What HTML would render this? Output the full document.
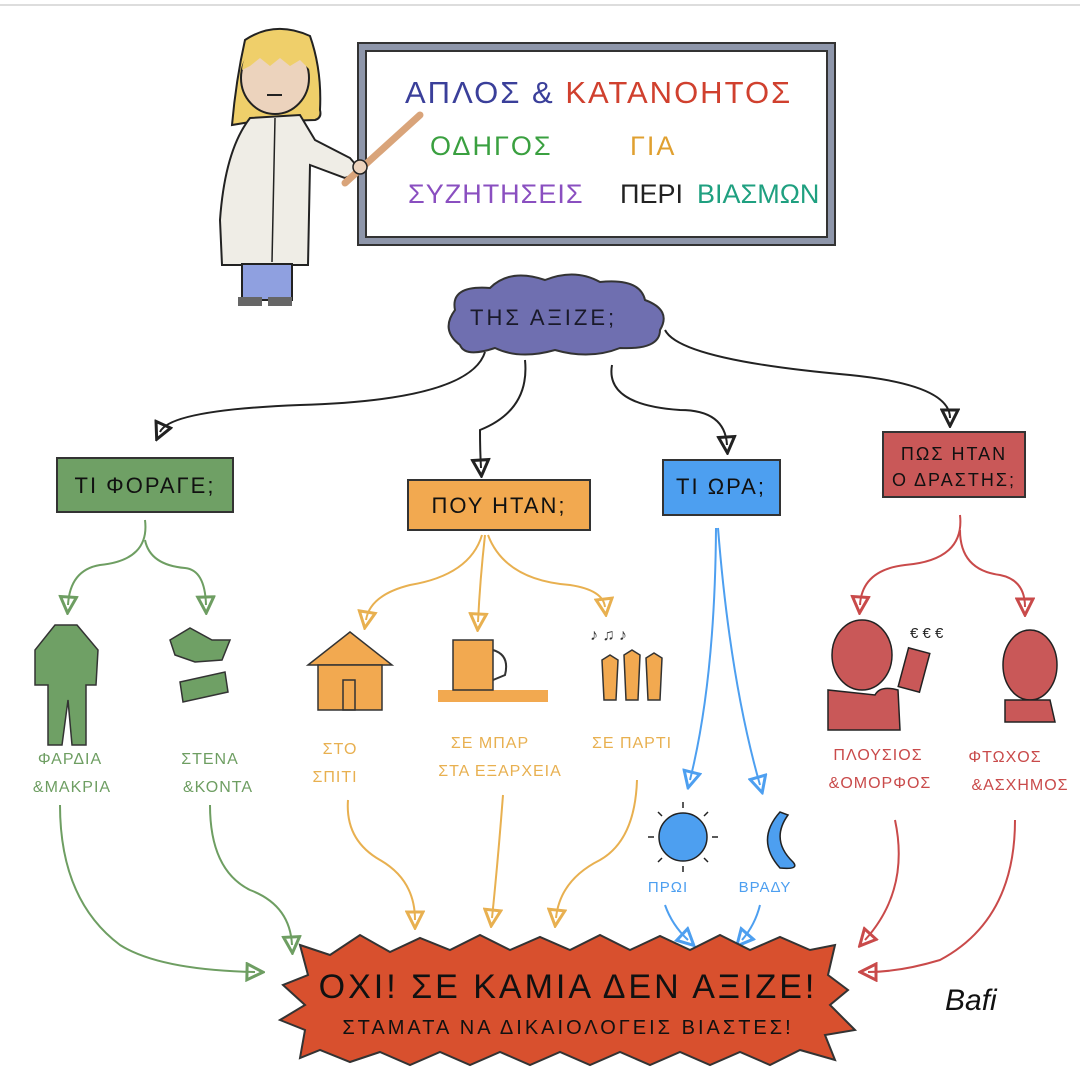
<!DOCTYPE html>
<html><head><meta charset="utf-8"><style>
html,body{margin:0;padding:0;background:#fff;}
svg{display:block;}
text{font-family:"Liberation Sans",sans-serif;}
</style></head><body>
<svg width="1080" height="1080" viewBox="0 0 1080 1080" xmlns="http://www.w3.org/2000/svg">
<defs>
<marker id="ag" markerWidth="10" markerHeight="10" refX="5" refY="5" orient="auto"><path d="M1,1 L9,5 L1,9 z" fill="none" stroke="#6e9e62" stroke-width="1.5"/></marker>
<marker id="ao" markerWidth="10" markerHeight="10" refX="5" refY="5" orient="auto"><path d="M1,1 L9,5 L1,9 z" fill="none" stroke="#e8b050" stroke-width="1.5"/></marker>
<marker id="ab" markerWidth="10" markerHeight="10" refX="5" refY="5" orient="auto"><path d="M1,1 L9,5 L1,9 z" fill="none" stroke="#4d9ff0" stroke-width="1.5"/></marker>
<marker id="ar" markerWidth="10" markerHeight="10" refX="5" refY="5" orient="auto"><path d="M1,1 L9,5 L1,9 z" fill="none" stroke="#c94a4a" stroke-width="1.5"/></marker>
<marker id="ak" markerWidth="10" markerHeight="10" refX="5" refY="5" orient="auto"><path d="M1,1 L9,5 L1,9 z" fill="none" stroke="#222" stroke-width="1.5"/></marker>
</defs>
<rect width="1080" height="1080" fill="#fff"/>
<line x1="0" y1="5" x2="1080" y2="5" stroke="#ddd" stroke-width="2"/>

<!-- board -->
<rect x="358" y="43" width="477" height="202" fill="#8e96aa" stroke="#333" stroke-width="2"/>
<rect x="366" y="51" width="461" height="186" fill="#fff" stroke="#333" stroke-width="2"/>
<text x="405" y="103" font-size="31" letter-spacing="2"><tspan fill="#3a3f9a">ΑΠΛΟΣ &amp;</tspan> <tspan fill="#d0402e">ΚΑΤΑΝΟΗΤΟΣ</tspan></text>
<text x="430" y="155" font-size="27" letter-spacing="2" fill="#3aa040">ΟΔΗΓΟΣ</text>
<text x="630" y="155" font-size="27" letter-spacing="2" fill="#e0a030">ΓΙΑ</text>
<text x="408" y="203" font-size="27" letter-spacing="1" fill="#8a4fc0">ΣΥΖΗΤΗΣΕΙΣ</text>
<text x="620" y="203" font-size="27" fill="#222">ΠΕΡΙ</text>
<text x="697" y="203" font-size="27" fill="#1fa080">ΒΙΑΣΜΩΝ</text>

<!-- teacher -->
<path d="M245,40 Q275,20 310,36 Q322,70 320,110 Q322,118 315,120 L250,122 L232,125 Q236,80 245,40z" fill="#efcf6a" stroke="#222" stroke-width="2"/>
<ellipse cx="275" cy="78" rx="34" ry="36" fill="#ecd3bd" stroke="#222" stroke-width="2"/>
<path d="M242,70 Q244,45 275,38 Q306,42 310,70 L300,60 L290,66 L280,58 L270,66 L260,58 L250,66z" fill="#efcf6a"/>
<line x1="267" y1="95" x2="282" y2="95" stroke="#222" stroke-width="2"/>
<path d="M250,118 L300,115 L315,140 L350,158 L362,172 L345,178 L310,165 L308,265 L222,265 L220,220 Q225,150 250,118z" fill="#efede6" stroke="#222" stroke-width="2"/>
<line x1="275" y1="118" x2="272" y2="262" stroke="#222" stroke-width="1.5"/>
<rect x="242" y="264" width="50" height="36" fill="#8fa0e0" stroke="#222" stroke-width="2"/>
<rect x="238" y="297" width="24" height="9" fill="#666"/><rect x="268" y="297" width="24" height="9" fill="#666"/>
<line x1="345" y1="183" x2="420" y2="115" stroke="#d9a47a" stroke-width="7" stroke-linecap="round"/>
<circle cx="360" cy="167" r="7" fill="#ecd3bd" stroke="#222" stroke-width="1.5"/>

<!-- cloud -->
<path d="M460,345 Q440,330 455,310 Q450,285 490,288 Q510,268 545,280 Q575,268 600,282 Q640,278 645,300 Q672,310 660,330 Q660,350 620,348 Q590,360 555,350 Q520,360 495,348 Q465,358 460,345z" fill="#6f6fb0" stroke="#333" stroke-width="2"/>
<text x="470" y="325" font-size="22" letter-spacing="3" fill="#1a1a2a">ΤΗΣ ΑΞΙΖΕ;</text>

<g fill="none" stroke="#222" stroke-width="2">
<path d="M485,352 Q470,400 300,405 Q170,410 160,432" marker-end="url(#ak)"/>
<path d="M525,360 Q530,410 480,430 Q480,450 481,468" marker-end="url(#ak)"/>
<path d="M612,365 Q605,405 680,410 Q725,410 727,445" marker-end="url(#ak)"/>
<path d="M665,330 Q680,360 850,375 Q950,385 950,418" marker-end="url(#ak)"/>
</g>

<rect x="57" y="458" width="176" height="54" fill="#6fa065" stroke="#333" stroke-width="2"/>
<text x="145" y="493" font-size="22" text-anchor="middle" letter-spacing="2" fill="#111">ΤΙ ΦΟΡΑΓΕ;</text>
<rect x="408" y="480" width="182" height="50" fill="#f2a950" stroke="#333" stroke-width="2"/>
<text x="499" y="513" font-size="22" text-anchor="middle" letter-spacing="2" fill="#111">ΠΟΥ ΗΤΑΝ;</text>
<rect x="663" y="460" width="117" height="55" fill="#4d9ff0" stroke="#333" stroke-width="2"/>
<text x="721" y="494" font-size="22" text-anchor="middle" letter-spacing="2" fill="#111">ΤΙ ΩΡΑ;</text>
<rect x="883" y="432" width="142" height="65" fill="#c95858" stroke="#333" stroke-width="2"/>
<text x="954" y="460" font-size="18" text-anchor="middle" letter-spacing="2" fill="#111">ΠΩΣ ΗΤΑΝ</text>
<text x="954" y="486" font-size="18" text-anchor="middle" letter-spacing="2" fill="#111">Ο ΔΡΑΣΤΗΣ;</text>

<g fill="none" stroke="#6e9e62" stroke-width="2">
<path d="M145,520 Q150,560 100,565 Q70,570 68,605" marker-end="url(#ag)"/>
<path d="M145,540 Q150,565 185,568 Q205,570 206,605" marker-end="url(#ag)"/>
<path d="M60,805 Q60,900 120,945 Q160,970 255,972" marker-end="url(#ag)"/>
<path d="M210,805 Q210,870 250,890 Q290,905 292,945" marker-end="url(#ag)"/>
</g>
<path d="M55,625 L77,625 L98,650 L96,685 L86,685 L86,745 L72,745 L68,700 L62,745 L48,745 L48,685 L35,685 L35,650z" fill="#6fa065" stroke="#333" stroke-width="1.5"/>
<path d="M170,640 L190,628 L212,640 L230,640 L222,660 L195,662 L175,655z" fill="#6fa065" stroke="#333" stroke-width="1.5"/>
<path d="M180,682 L225,672 L228,692 L183,702z" fill="#6fa065" stroke="#333" stroke-width="1.5"/>
<text x="70" y="764" font-size="16" text-anchor="middle" fill="#6e9e62" letter-spacing="1">ΦΑΡΔΙΑ</text>
<text x="72" y="792" font-size="16" text-anchor="middle" fill="#6e9e62" letter-spacing="1">&amp;ΜΑΚΡΙΑ</text>
<text x="210" y="764" font-size="16" text-anchor="middle" fill="#6e9e62" letter-spacing="1">ΣΤΕΝΑ</text>
<text x="218" y="792" font-size="16" text-anchor="middle" fill="#6e9e62" letter-spacing="1">&amp;ΚΟΝΤΑ</text>

<g fill="none" stroke="#e8b050" stroke-width="2">
<path d="M482,535 Q470,575 410,585 Q370,595 366,620" marker-end="url(#ao)"/>
<path d="M485,535 Q480,580 478,622" marker-end="url(#ao)"/>
<path d="M488,535 Q505,580 570,585 Q603,590 605,607" marker-end="url(#ao)"/>
<path d="M348,800 Q345,840 380,860 Q415,880 415,920" marker-end="url(#ao)"/>
<path d="M503,795 Q498,860 492,918" marker-end="url(#ao)"/>
<path d="M637,780 Q635,840 600,860 Q560,880 556,918" marker-end="url(#ao)"/>
</g>
<path d="M308,665 L350,632 L392,665z" fill="#f2a950" stroke="#333" stroke-width="1.5"/>
<rect x="318" y="665" width="64" height="45" fill="#f2a950" stroke="#333" stroke-width="1.5"/>
<rect x="343" y="680" width="12" height="30" fill="none" stroke="#333" stroke-width="1.5"/>
<rect x="438" y="690" width="110" height="12" fill="#f2a950"/>
<rect x="453" y="640" width="40" height="50" fill="#f2a950" stroke="#333" stroke-width="1.5"/>
<path d="M493,650 Q510,655 505,675 L493,680" fill="none" stroke="#333" stroke-width="2"/>
<g fill="#f2a950" stroke="#333" stroke-width="1.5">
<path d="M602,660 l8,-5 l8,5 l-2,40 l-12,0z"/><path d="M624,655 l8,-5 l8,5 l-2,45 l-12,0z"/><path d="M646,658 l8,-5 l8,5 l-2,42 l-12,0z"/>
</g>
<text x="590" y="640" font-size="16" fill="#333">♪ ♫ ♪</text>
<text x="340" y="754" font-size="16" text-anchor="middle" fill="#e8b050" letter-spacing="1">ΣΤΟ</text>
<text x="335" y="782" font-size="16" text-anchor="middle" fill="#e8b050" letter-spacing="1">ΣΠΙΤΙ</text>
<text x="490" y="748" font-size="16" text-anchor="middle" fill="#e8b050" letter-spacing="1">ΣΕ ΜΠΑΡ</text>
<text x="500" y="776" font-size="16" text-anchor="middle" fill="#e8b050" letter-spacing="1">ΣΤΑ ΕΞΑΡΧΕΙΑ</text>
<text x="632" y="748" font-size="16" text-anchor="middle" fill="#e8b050" letter-spacing="1">ΣΕ ΠΑΡΤΙ</text>

<g fill="none" stroke="#4d9ff0" stroke-width="2">
<path d="M716,528 Q715,680 690,780" marker-end="url(#ab)"/>
<path d="M718,528 Q730,680 760,785" marker-end="url(#ab)"/>
<path d="M665,905 Q672,925 688,940" marker-end="url(#ab)"/>
<path d="M760,905 Q755,925 742,940" marker-end="url(#ab)"/>
</g>
<circle cx="683" cy="837" r="24" fill="#4d9ff0" stroke="#222" stroke-width="1.5"/>
<g stroke="#222" stroke-width="1.5"><line x1="683" y1="802" x2="683" y2="808"/><line x1="683" y1="866" x2="683" y2="872"/><line x1="648" y1="837" x2="654" y2="837"/><line x1="712" y1="837" x2="718" y2="837"/><line x1="658" y1="812" x2="662" y2="816"/><line x1="704" y1="858" x2="708" y2="862"/><line x1="708" y1="812" x2="704" y2="816"/><line x1="658" y1="862" x2="662" y2="858"/></g>
<path d="M780,812 Q755,840 780,868 Q800,870 793,862 Q770,840 788,815z" fill="#4d9ff0" stroke="#222" stroke-width="1.5"/>
<text x="668" y="892" font-size="15" text-anchor="middle" fill="#4d9ff0" letter-spacing="1">ΠΡΩΙ</text>
<text x="765" y="892" font-size="15" text-anchor="middle" fill="#4d9ff0" letter-spacing="1">ΒΡΑΔΥ</text>

<g fill="none" stroke="#c94a4a" stroke-width="2">
<path d="M960,515 Q965,560 905,565 Q862,570 860,605" marker-end="url(#ar)"/>
<path d="M960,530 Q960,570 1000,575 Q1025,580 1025,607" marker-end="url(#ar)"/>
<path d="M895,820 Q910,890 865,940" marker-end="url(#ar)"/>
<path d="M1015,820 Q1015,920 940,960 Q900,972 868,972" marker-end="url(#ar)"/>
</g>
<path d="M828,690 L828,730 L900,730 L898,690 Q880,685 875,695z" fill="#c95858" stroke="#222" stroke-width="1.5"/>
<ellipse cx="862" cy="655" rx="30" ry="35" fill="#c95858" stroke="#222" stroke-width="1.5"/>
<rect x="903" y="650" width="22" height="40" fill="#c95858" stroke="#222" stroke-width="1.5" transform="rotate(15 914 670)"/>
<text x="910" y="638" font-size="15" fill="#222">€ € €</text>
<ellipse cx="1030" cy="665" rx="27" ry="35" fill="#c95858" stroke="#222" stroke-width="1.5"/>
<path d="M1005,700 L1050,700 L1055,722 L1005,722z" fill="#c95858" stroke="#222" stroke-width="1.5"/>
<text x="878" y="760" font-size="16" text-anchor="middle" fill="#c94a4a" letter-spacing="1">ΠΛΟΥΣΙΟΣ</text>
<text x="880" y="788" font-size="16" text-anchor="middle" fill="#c94a4a" letter-spacing="1">&amp;ΟΜΟΡΦΟΣ</text>
<text x="1005" y="762" font-size="16" text-anchor="middle" fill="#c94a4a" letter-spacing="1">ΦΤΩΧΟΣ</text>
<text x="1020" y="790" font-size="16" text-anchor="middle" fill="#c94a4a" letter-spacing="1">&amp;ΑΣΧΗΜΟΣ</text>

<path d="M300,945 L330,955 L360,935 L390,952 L420,938 L450,950 L480,935 L510,950 L540,937 L570,950 L600,935 L630,950 L660,936 L690,950 L720,935 L750,950 L780,937 L810,950 L835,945 L828,975 L848,990 L830,1005 L855,1030 L825,1035 L835,1060 L800,1050 L770,1065 L740,1052 L710,1065 L680,1052 L650,1065 L620,1052 L590,1065 L560,1052 L530,1065 L500,1052 L470,1065 L440,1052 L410,1065 L380,1052 L350,1062 L320,1050 L300,1058 L305,1030 L280,1020 L305,1005 L283,985 L308,975z" fill="#d8502e" stroke="#333" stroke-width="2"/>
<text x="568" y="998" font-size="34" text-anchor="middle" fill="#111" letter-spacing="3">ΟΧΙ! ΣΕ ΚΑΜΙΑ ΔΕΝ ΑΞΙΖΕ!</text>
<text x="568" y="1034" font-size="20" text-anchor="middle" fill="#111" letter-spacing="3">ΣΤΑΜΑΤΑ ΝΑ ΔΙΚΑΙΟΛΟΓΕΙΣ ΒΙΑΣΤΕΣ!</text>
<text x="945" y="1010" font-size="30" font-style="italic" fill="#111" font-family="Liberation Serif">Bafi</text>
</svg>
</body></html>
